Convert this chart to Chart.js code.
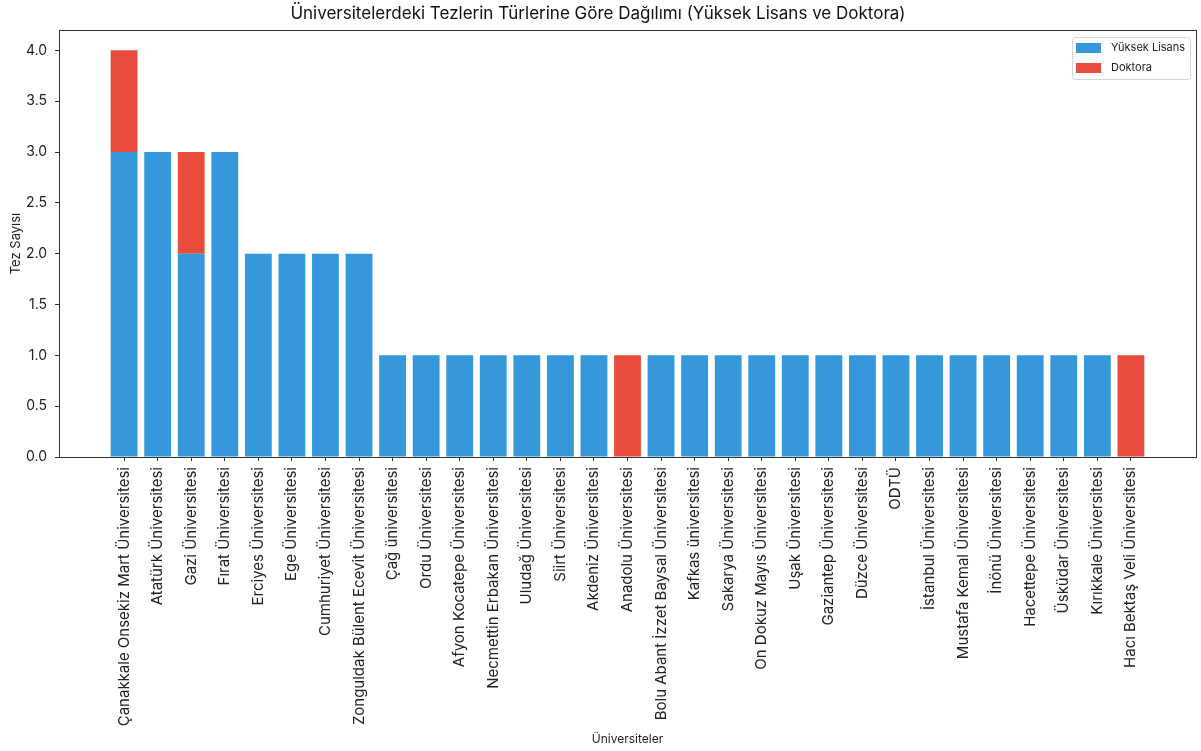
<!DOCTYPE html>
<html>
<head>
<meta charset="utf-8">
<script src="https://cdn.jsdelivr.net/npm/chart.js@4"></script>
<style>
  html, body { margin: 0; padding: 0; background: #fff; }
  #wrap { width: 1201px; height: 751px; }
</style>
</head>
<body>
<div id="wrap"><canvas id="chart" width="1201" height="751"></canvas></div>
<script>
/* DATA */
const universities = [
  "Çanakkale Onsekiz Mart Üniversitesi", "Atatürk Üniversitesi", "Gazi Üniversitesi",
  "Fırat Üniversitesi", "Erciyes Üniversitesi", "Ege Üniversitesi", "Cumhuriyet Üniversitesi",
  "Zonguldak Bülent Ecevit Üniversitesi", "Çağ üniversitesi", "Ordu Üniversitesi",
  "Afyon Kocatepe Üniversitesi", "Necmettin Erbakan Üniversitesi", "Uludağ Üniversitesi",
  "Siirt Üniversitesi", "Akdeniz Üniversitesi", "Anadolu Üniversitesi",
  "Bolu Abant İzzet Baysal Üniversitesi", "Kafkas üniversitesi", "Sakarya Üniversitesi",
  "On Dokuz Mayıs Üniversitesi", "Uşak Üniversitesi", "Gaziantep Üniversitesi",
  "Düzce Üniversitesi", "ODTÜ", "İstanbul Üniversitesi", "Mustafa Kemal Üniversitesi",
  "İnönü Üniversitesi", "Hacettepe Üniversitesi", "Üsküdar Üniversitesi",
  "Kırıkkale Üniversitesi", "Hacı Bektaş Veli Üniversitesi"
];
const yuksekLisans = [3, 3, 2, 3, 2, 2, 2, 2, 1, 1, 1, 1, 1, 1, 1, 0, 1, 1, 1, 1, 1, 1, 1, 1, 1, 1, 1, 1, 1, 1, 0];
const doktora      = [1, 0, 1, 0, 0, 0, 0, 0, 0, 0, 0, 0, 0, 0, 0, 1, 0, 0, 0, 0, 0, 0, 0, 0, 0, 0, 0, 0, 0, 0, 1];
const yTicks = [0, 0.5, 1, 1.5, 2, 2.5, 3, 3.5, 4];

const FONT = "Inter, Roboto, 'DejaVu Sans', sans-serif";
const blue = "#3498db";
const red = "#e74c3c";

/* Frame around plot area (all four spines) */
const framePlugin = {
  id: "frame",
  afterDatasetsDraw(chart) {
    const { ctx, chartArea: a } = chart;
    ctx.save();
    ctx.strokeStyle = "#333";
    ctx.lineWidth = 1;
    ctx.strokeRect(Math.round(a.left) + 0.5, Math.round(a.top) + 0.5,
      Math.round(a.right - a.left), Math.round(a.bottom - a.top));
    ctx.restore();
  }
};

/* Legend box inside the plot, top right */
const legendPlugin = {
  id: "boxLegend",
  afterDraw(chart) {
    const { ctx, chartArea: a } = chart;
    const w = 118, h = 42;
    const x = a.right - 6 - w, y = a.top + 7;
    ctx.save();
    ctx.fillStyle = "rgba(255,255,255,0.8)";
    ctx.strokeStyle = "#d6d6d6";
    ctx.lineWidth = 1;
    ctx.beginPath();
    ctx.roundRect(x + 0.5, y + 0.5, w, h, 3);
    ctx.fill();
    ctx.stroke();
    ctx.font = "11px " + FONT;
    ctx.textBaseline = "middle";
    chart.data.datasets.forEach((ds, i) => {
      const ry = y + 11 + i * 20;
      ctx.fillStyle = ds.backgroundColor;
      ctx.fillRect(x + 4, ry - 5, 25, 10);
      ctx.fillStyle = "#222";
      ctx.fillText(ds.label, x + 39, ry);
    });
    ctx.restore();
  }
};

new Chart(document.getElementById("chart"), {
  type: "bar",
  data: {
    datasets: [
      {
        label: "Yüksek Lisans",
        data: yuksekLisans.map((v, i) => ({ x: i, y: v })),
        backgroundColor: blue
      },
      {
        label: "Doktora",
        data: doktora.map((v, i) => ({ x: i, y: v })),
        backgroundColor: red
      }
    ]
  },
  options: {
    responsive: false,
    animation: false,
    barPercentage: 0.8,
    categoryPercentage: 1.0,
    layout: { padding: { left: 0, right: 5, top: 0, bottom: 0 } },
    plugins: {
      legend: { display: false },
      tooltip: { enabled: false },
      title: {
        display: true,
        text: "Üniversitelerdeki Tezlerin Türlerine Göre Dağılımı (Yüksek Lisans ve Doktora)",
        color: "#111",
        font: { family: FONT, size: 17, weight: "normal" },
        padding: { top: 4, bottom: 5.6 }
      }
    },
    scales: {
      x: {
        type: "linear",
        stacked: true,
        offset: false,
        min: -1.94,
        max: 31.94,
        afterBuildTicks: scale => {
          scale.ticks = universities.map((n, i) => ({ value: i }));
        },
        afterFit: scale => { scale.height = 294; },
        ticks: {
          autoSkip: false,
          minRotation: 90,
          maxRotation: 90,
          padding: 6,
          color: "#222",
          font: { family: FONT, size: 15 },
          callback: v => universities[v]
        },
        grid: { offset: false, drawOnChartArea: false, drawTicks: true, tickLength: 4, color: "#333" },
        border: { display: true, color: "#333" },
        title: {
          display: true,
          text: "Üniversiteler",
          color: "#222",
          font: { family: FONT, size: 12 },
          padding: { top: 4, bottom: 4 }
        }
      },
      y: {
        stacked: true,
        min: 0,
        max: 4.2,
        afterBuildTicks: scale => {
          scale.ticks = yTicks.map(v => ({ value: v }));
        },
        afterFit: scale => { scale.width = 59; },
        ticks: {
          padding: 8,
          color: "#222",
          font: { family: FONT, size: 14 },
          callback: v => Number(v).toFixed(1)
        },
        grid: { drawOnChartArea: false, drawTicks: true, tickLength: 4, color: "#333" },
        border: { display: true, color: "#333" },
        title: {
          display: true,
          text: "Tez Sayısı",
          color: "#222",
          font: { family: FONT, size: 13 },
          padding: { top: 8, bottom: 4 }
        }
      }
    }
  },
  plugins: [framePlugin, legendPlugin]
});
</script>
</body>
</html>
